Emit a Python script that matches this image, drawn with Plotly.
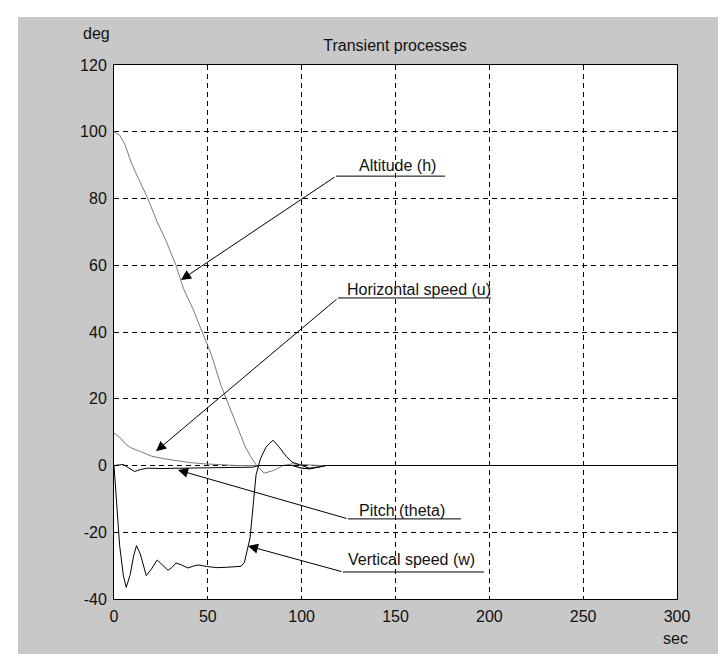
import plotly.graph_objects as go

# ---- data ----
t_h = [0, 3, 6, 9, 13, 18, 23, 28, 33, 37, 42, 47, 52, 57, 62, 66, 70, 73, 76, 80, 85, 90, 95, 100, 110, 120, 300]
altitude = [100, 99, 96, 91, 86, 80, 73, 67, 60, 53, 47, 40, 33, 24, 17, 11, 5.5, 2.5, 0, -2.3, -1.5, 0, 0.5, 0.3, 0, 0, 0]

t_u = [0, 3, 6, 9, 14, 20, 27, 33, 40, 48, 56, 65, 75, 85, 95, 100, 105, 110, 300]
horiz_speed = [9.7, 8.5, 6.5, 5.3, 4.2, 2.8, 2.0, 1.4, 0.9, 0.5, 0.2, 0, 0, 0, 0, -0.8, -1, 0, 0]

t_theta = [0, 3, 5, 8, 11, 14, 18, 25, 40, 55, 70, 74, 77, 85, 95, 100, 104, 108, 113, 300]
pitch = [0, 0.2, 0.3, -0.8, -1.8, -1.2, -0.8, -0.9, -0.8, -0.8, -0.7, -0.5, 0, 0, 0, -0.8, -1.0, -0.6, 0, 0]

t_w = [0, 1, 3, 5, 6.5, 8.5, 10.5, 12, 14, 17.2, 20, 23, 26, 28.8, 31, 33, 36, 39.4, 42, 44.8,
       50, 55, 60, 67.7, 69.5, 72.5, 75.7, 78, 81, 84.7, 88, 91.7, 95, 98, 100, 104, 108, 113, 300]
vert_speed = [0, -8, -24, -33, -36.5, -33, -27, -24, -26.5, -33, -31, -28.3, -30, -31.4, -30.5, -29.2, -29.8, -30.7, -30.2, -29.8,
              -30.3, -30.6, -30.5, -30.2, -29, -21.7, -2.8, 2, 5.5, 7.6, 5.5, 2.8, 1, 0.5, 0, -0.8, -0.6, 0, 0]

x_ticks = [0, 50, 100, 150, 200, 250, 300]
x_ticktext = ["0", "50", "100", "150", "200", "250", "300"]
y_ticks = [-40, -20, 0, 20, 40, 60, 80, 100, 120]
y_ticktext = ["-40", "-20", "0", "20", "40", "60", "80", "100", "120"]

# labels: text, text position, underline start/end (x), underline y, arrow tip
labels = ["Altitude (h)", "Horizontal speed (u)", "Pitch (theta)", "Vertical speed (w)"]
label_x = [150.8, 162.5, 153.7, 158.5]
label_y = [90.0, 52.6, -13.6, -28.3]
under_x0 = [118.3, 119.4, 124.7, 122.0]
under_x1 = [176.4, 200.9, 184.9, 197.2]
under_y = [86.7, 50.2, -16.0, -31.9]
tip_x = [35.7, 22.4, 34.1, 71.4]
tip_y = [55.6, 4.3, -1.35, -24.1]

FONT = "Liberation Sans, Arial"
FS = 16
TXT = "#111111"
GRAY = "#c8c8c8"

fig = go.Figure()
fig.add_trace(go.Scatter(x=t_h, y=altitude, mode="lines", line=dict(color="#7a7a7a", width=1), name="Altitude (h)"))
fig.add_trace(go.Scatter(x=t_u, y=horiz_speed, mode="lines", line=dict(color="#7a7a7a", width=1), name="Horizontal speed (u)"))
fig.add_trace(go.Scatter(x=t_theta, y=pitch, mode="lines", line=dict(color="#000000", width=1), name="Pitch (theta)"))
fig.add_trace(go.Scatter(x=t_w, y=vert_speed, mode="lines", line=dict(color="#000000", width=1), name="Vertical speed (w)"))

# white strips (top and left of the gray figure frame)
shapes = [
    dict(type="rect", xref="paper", yref="paper", x0=(0 - 106) / 563, x1=(726 - 106) / 563,
         y0=(591 - 9) / 534, y1=(591 - 0) / 534, fillcolor="white", line=dict(width=0), layer="above"),
    dict(type="rect", xref="paper", yref="paper", x0=(0 - 106) / 563, x1=(10 - 106) / 563,
         y0=(591 - 654) / 534, y1=(591 - 0) / 534, fillcolor="white", line=dict(width=0), layer="above"),
]
annotations = []
for i in range(len(labels)):
    shapes.append(dict(type="line", xref="x", yref="y", x0=under_x0[i], x1=under_x1[i], y0=under_y[i], y1=under_y[i],
                       line=dict(color="black", width=1)))
    annotations.append(dict(x=tip_x[i], y=tip_y[i], ax=under_x0[i], ay=under_y[i], xref="x", yref="y",
                            axref="x", ayref="y", text="", showarrow=True, arrowhead=2, arrowsize=2,
                            arrowwidth=1, arrowcolor="black", standoff=0, startstandoff=0))
    annotations.append(dict(x=label_x[i], y=label_y[i], xref="x", yref="y", text=labels[i], showarrow=False,
                            xanchor="center", yanchor="middle", font=dict(family=FONT, size=FS, color=TXT)))

annotations.append(dict(x=(88 - 106) / 563, y=(591 - 26) / 534, xref="paper", yref="paper", text="deg",
                        showarrow=False, xanchor="center", yanchor="middle", font=dict(family=FONT, size=FS, color=TXT)))
annotations.append(dict(x=(667 - 106) / 563, y=(591 - 630) / 534, xref="paper", yref="paper", text="sec",
                        showarrow=False, xanchor="center", yanchor="middle", font=dict(family=FONT, size=FS, color=TXT)))

axis_common = dict(showline=True, linecolor="black", linewidth=1, mirror=True, showgrid=True, gridcolor="black",
                   gridwidth=1, griddash="5px,4px", zeroline=False, ticks="", automargin=False,
                   tickfont=dict(family=FONT, size=FS, color=TXT))

fig.update_layout(
    width=726, height=654,
    margin=dict(l=106, r=57, t=57, b=63, autoexpand=False),
    paper_bgcolor=GRAY, plot_bgcolor="white",
    showlegend=False,
    title=dict(text="Transient processes", x=387 / 726, xanchor="center", y=1 - 37 / 654, yanchor="middle",
               font=dict(family=FONT, size=FS, color=TXT)),
    xaxis=dict(range=[0, 300], tickvals=x_ticks, ticktext=x_ticktext, ticklabelstandoff=3, **axis_common),
    yaxis=dict(range=[-40, 120], tickvals=y_ticks, ticktext=y_ticktext, ticklabelstandoff=3, **axis_common),
    shapes=shapes, annotations=annotations,
)

fig.write_html("out.html")
